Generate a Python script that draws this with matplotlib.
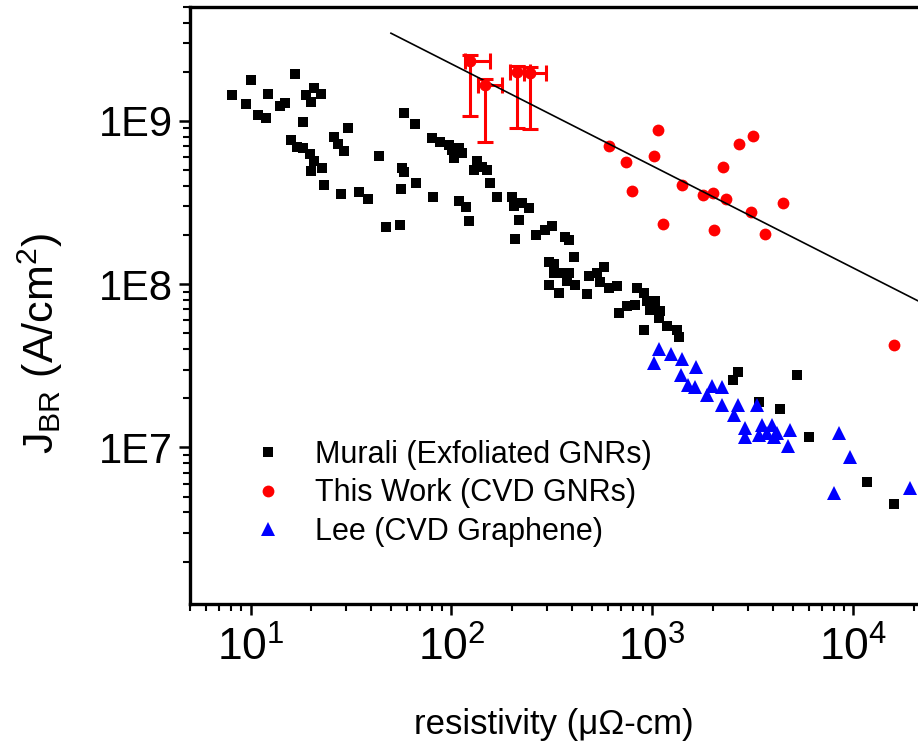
import numpy as np
import matplotlib
matplotlib.use('Agg')
import matplotlib.pyplot as plt
from matplotlib.ticker import LogLocator, FixedLocator, FuncFormatter, NullFormatter

plt.rcParams['font.family'] = ['Liberation Sans', 'DejaVu Sans']
plt.rcParams['mathtext.fontset'] = 'custom'
plt.rcParams['mathtext.rm'] = 'Liberation Sans'
plt.rcParams['mathtext.it'] = 'Liberation Sans:italic'
plt.rcParams['mathtext.bf'] = 'Liberation Sans:bold'

# Murali (exfoliated GNRs): resistivity (uOhm-cm) / breakdown current density (A/cm2)
murali_rho = [8.05, 9.52, 10.1, 10.9, 12.0, 12.2, 14.1, 14.8, 16.6, 18.2, 18.8, 19.9, 20.8, 22.5,
              15.9, 17.1, 18.3, 19.7, 20.6, 19.9, 22.6, 23.3, 26.0, 27.2, 29.1, 30.6, 28.3, 34.7, 38.5, 43.7,
              47.3, 55.3, 57.9, 66.2, 57.9, 56.2, 67.0, 81.4, 56.9,
              80.2, 88.2, 97.0, 100.8, 108.7, 113.0, 102.7, 134.3, 129.1, 142.1, 150.5, 156.3,
              108.7, 118.8, 122.0, 168.8, 200.4, 204.2, 224.7, 242.4, 216.1, 208.1, 264.8, 293.6, 317.0, 369.2, 383.4,
              304.9, 322.9, 406.1, 322.9, 355.3, 383.4, 304.9, 341.9, 376.3, 414.1, 473.3, 482.0, 530.8, 572.4,
              551.2, 606.2, 667.5, 679.8, 748.3, 823.0, 839.3, 904.9, 940.9, 1035, 977.2, 1096, 1075, 1183,
              1327, 1351, 904.9,
              2509, 2657, 3380, 4298, 5248, 5994, 11700, 15870]
murali_j = [1.43e9, 1.26e9, 1.77e9, 1.09e9, 1.04e9, 1.47e9, 1.235e9, 1.29e9, 1.94e9, 9.9e8, 1.44e9, 1.31e9, 1.58e9, 1.46e9,
            7.65e8, 6.96e8, 6.81e8, 6.28e8, 5.64e8, 4.90e8, 5.14e8, 4.06e8, 7.95e8, 7.23e8, 6.58e8, 9.1e8, 3.58e8, 3.69e8, 3.33e8, 6.11e8,
            2.24e8, 2.30e8, 1.11e9, 9.59e8, 4.83e8, 3.82e8, 4.16e8, 3.42e8, 5.14e8,
            7.84e8, 7.47e8, 7.13e8, 6.65e8, 6.81e8, 6.34e8, 5.91e8, 5.64e8, 5.01e8, 5.25e8, 5.01e8, 4.16e8,
            3.21e8, 2.97e8, 2.42e8, 3.44e8, 3.44e8, 2.99e8, 3.14e8, 2.92e8, 2.48e8, 1.89e8, 1.99e8, 2.15e8, 2.28e8, 1.94e8, 1.87e8,
            1.36e8, 1.32e8, 1.47e8, 1.17e8, 1.17e8, 1.17e8, 9.93e7, 8.84e7, 1.04e8, 9.93e7, 8.75e7, 1.12e8, 1.17e8, 1.28e8,
            1.03e8, 9.48e7, 9.69e7, 6.67e7, 7.31e7, 7.49e7, 9.48e7, 8.84e7, 7.85e7, 7.85e7, 6.98e7, 6.82e7, 6.21e7, 5.52e7,
            5.27e7, 4.76e7, 5.27e7,
            2.57e7, 2.89e7, 1.89e7, 1.72e7, 2.77e7, 1.16e7, 6.1e6, 4.48e6]

# This work (CVD GNRs)
work_rho = [611, 742, 792, 1063, 1023, 1134, 1405, 1787, 2005, 2018, 2255, 2315, 2688, 3170, 3097, 3649, 4469, 15870]
work_j = [7.06e8, 5.59e8, 3.73e8, 8.81e8, 6.11e8, 2.35e8, 4.04e8, 3.49e8, 3.64e8, 2.15e8, 5.18e8, 3.32e8,
          7.23e8, 8.13e8, 2.76e8, 2.04e8, 3.15e8, 4.21e7]

# this work, points with error bars
eb_rho = [124.3, 147.6, 212.3, 247.2]
eb_rho_lo = [116.5, 135.8, 196.6, 228.9]
eb_rho_hi = [156.3, 178.7, 247.0, 295.9]
eb_j = [2.34e9, 1.66e9, 2.00e9, 1.96e9]
eb_j_lo = [1.07e9, 7.47e8, 9.02e8, 8.9e8]
eb_j_hi = [2.53e9, 1.80e9, 2.17e9, 2.15e9]

# Lee (CVD graphene)
lee_rho = [1075, 1015, 1243, 1405, 1650, 1389, 1498, 1637, 1982, 2222, 1871, 2222, 2670, 2538, 3319, 2902,
           2902, 3514, 3940, 3380, 3721, 4173, 4013, 4860, 4733, 8452, 9586, 7980, 19060]
lee_j = [4.02e7, 3.30e7, 3.71e7, 3.49e7, 3.12e7, 2.77e7, 2.40e7, 2.35e7, 2.39e7, 2.35e7, 2.08e7, 1.81e7, 1.81e7,
         1.57e7, 1.81e7, 1.32e7, 1.16e7, 1.38e7, 1.38e7, 1.20e7, 1.23e7, 1.23e7, 1.16e7, 1.28e7, 1.02e7, 1.22e7,
         8.69e6, 5.28e6, 5.67e6]

# guide line
fit_rho = [50, 21000]
fit_j = [3.44e9, 7.9e7]

fig = plt.figure(figsize=(9.18, 7.42), dpi=100)
ax = fig.add_axes([0.207, 0.186, 0.793, 0.805])

ax.plot(murali_rho, murali_j, 's', color='black', ms=7.8, mew=0, label='Murali (Exfoliated GNRs)')
ax.plot(work_rho, work_j, 'o', color='red', ms=8.5, mew=0, label='This Work (CVD GNRs)')

eb_rho_a = np.array(eb_rho)
eb_j_a = np.array(eb_j)
xerr = [eb_rho_a - np.array(eb_rho_lo), np.array(eb_rho_hi) - eb_rho_a]
yerr = [eb_j_a - np.array(eb_j_lo), np.array(eb_j_hi) - eb_j_a]
ax.errorbar(eb_rho, eb_j, xerr=xerr, yerr=yerr, fmt='o', color='red', ms=7.5,
            elinewidth=2.2, capsize=5.5, capthick=2.2)

ax.plot(lee_rho, lee_j, '^', color='blue', ms=9.5, mew=0, label='Lee (CVD Graphene)')
ax.plot(fit_rho, fit_j, '-', color='black', lw=1.2)

ax.set_xscale('log')
ax.set_yscale('log')
ax.set_xlim(5, 2.1e4)
ax.set_ylim(1.1e6, 5e9)

ax.yaxis.set_major_locator(FixedLocator([1e7, 1e8, 1e9]))
ax.yaxis.set_major_formatter(FuncFormatter(lambda v, p: '1E%d' % round(np.log10(v))))
ax.yaxis.set_minor_locator(LogLocator(subs=np.arange(2, 10)))
ax.yaxis.set_minor_formatter(NullFormatter())
ax.xaxis.set_minor_locator(LogLocator(subs=np.arange(2, 10)))
ax.xaxis.set_minor_formatter(NullFormatter())

for s in ['left', 'bottom', 'top']:
    ax.spines[s].set_linewidth(2.4)
ax.spines['right'].set_visible(False)

ax.tick_params(which='both', direction='out', top=False, right=False)
ax.tick_params(which='major', length=8, width=1.8)
ax.tick_params(which='minor', length=5, width=1.5)
ax.tick_params(axis='x', which='major', labelsize=32, pad=8)
ax.tick_params(axis='y', which='major', labelsize=30, pad=4)

ax.set_xlabel('resistivity (\u03bc\u03a9-cm)', fontsize=25, labelpad=28)
ax.set_ylabel(r'J$_{\mathrm{BR}}$ (A/cm$^{2}$)', fontsize=31, va='center')
ax.yaxis.set_label_coords(-0.206, 0.4355)

ax.legend(loc='upper left', bbox_to_anchor=(0.0755, 0.2747), frameon=False, fontsize=22,
          handlelength=1.5, handletextpad=0.78, labelspacing=0.28, borderpad=0,
          borderaxespad=0, numpoints=1)

fig.savefig('out.png', dpi=100)
